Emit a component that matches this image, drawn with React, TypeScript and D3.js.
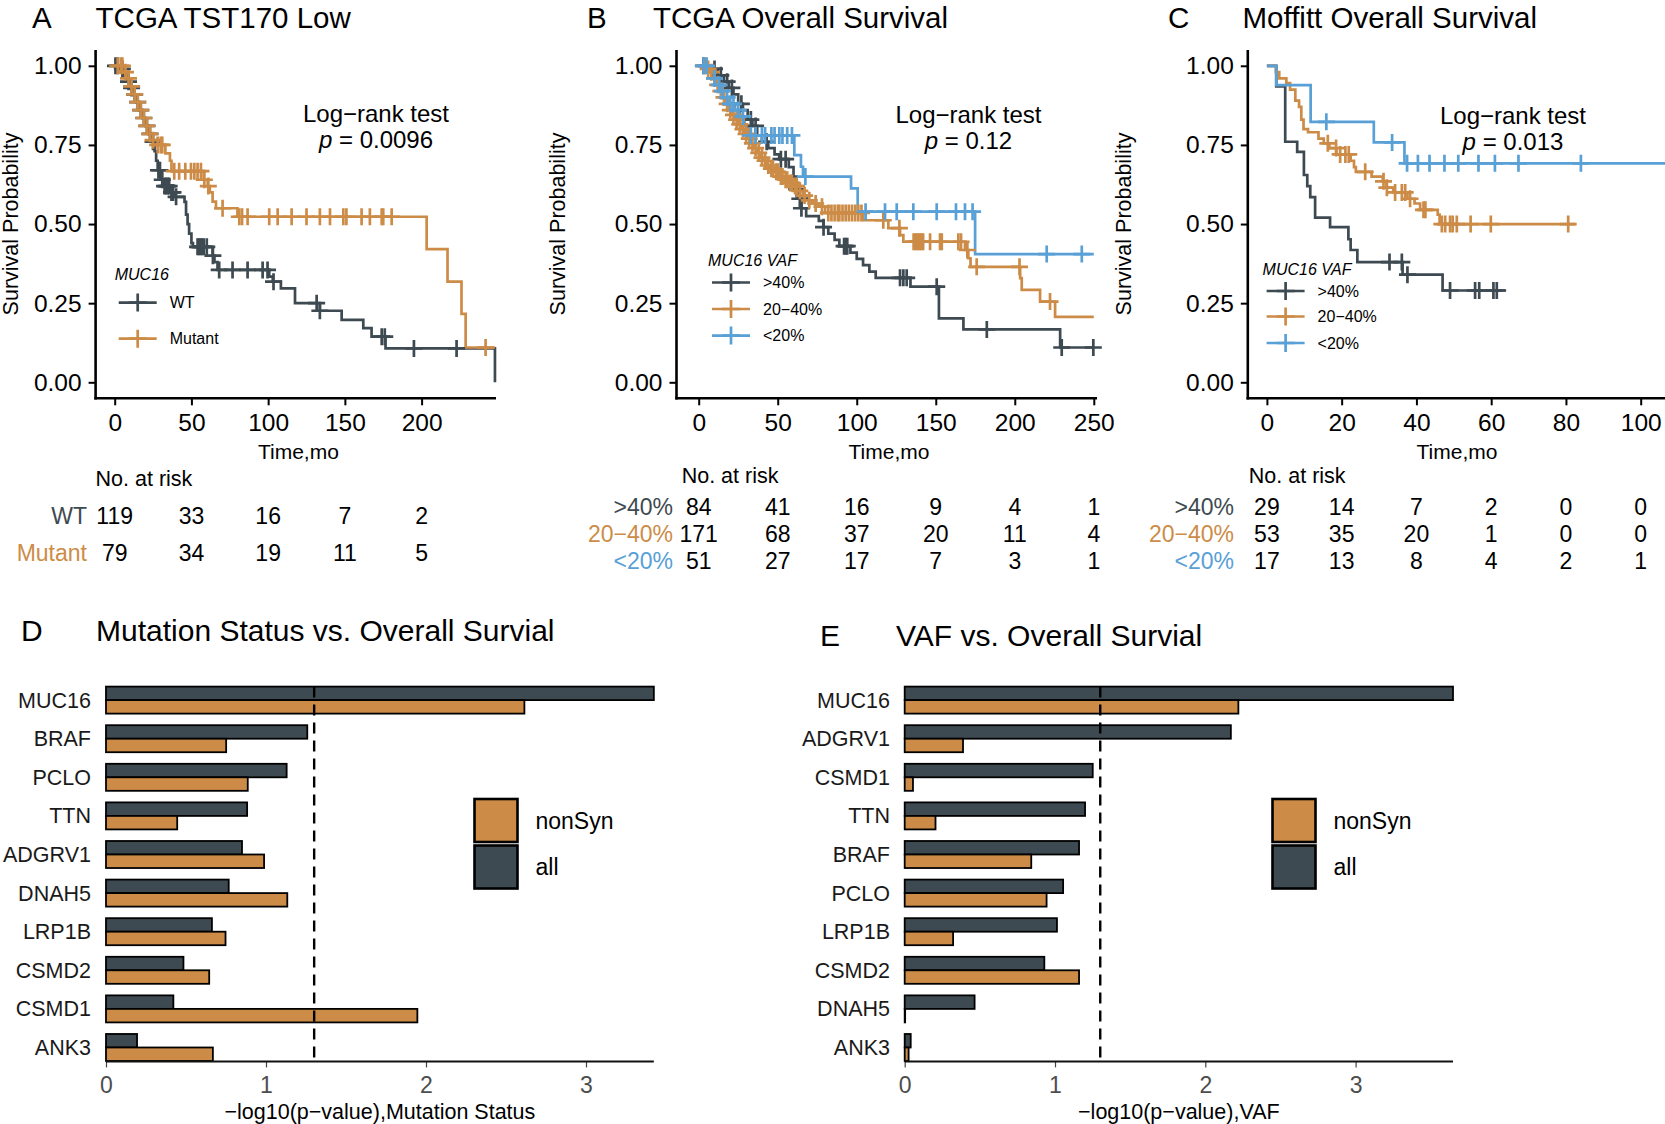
import React, { useEffect, useRef } from 'react';
import * as d3 from 'd3';

const DARK = '#3e4a51';
const ORANGE = '#cc8c47';
const BLUE = '#58a0d6';
const FONT = "'Liberation Sans', Arial, Helvetica, sans-serif";

// ---------- shared ----------
const yTicks = [0, 0.25, 0.5, 0.75, 1];
const vafGroups = ['>40%', '20\u221240%', '<20%'];

// ---------- A: TCGA TST170 Low ----------
const aTicks = [0, 50, 100, 150, 200];
const aGroups = ['WT', 'Mutant'];
const aWtSteps = [
  [0, 1], [3, 0.99], [6, 0.97], [8, 0.95], [10, 0.93], [12, 0.91], [14, 0.885], [16, 0.86], [18, 0.835],
  [20, 0.81], [22, 0.785], [24, 0.76], [26, 0.73], [27, 0.7], [28, 0.67], [30, 0.64], [32, 0.62], [36, 0.6],
  [39, 0.586], [45.5, 0.57], [46.5, 0.53], [47.5, 0.5], [48.5, 0.47], [50, 0.44], [51, 0.428], [63.8, 0.4],
  [65, 0.38], [67, 0.355], [100.7, 0.334], [103, 0.318], [108.3, 0.297], [117.5, 0.25], [133.7, 0.226],
  [147.9, 0.197], [162, 0.171], [167.4, 0.144], [176.5, 0.107], [247.8, 0],
];
const aWtCensor = [
  0.5, 2, 5, 9, 11, 13, 15, 17, 19, 21, 23, 25, 28.5, 29.5, 31, 32.5, 33.5, 34.5, 35.5, 37, 38, 40, 54, 55,
  56, 57, 58, 60, 64, 68.1, 76.8, 86.6, 96.4, 99.6, 103.5, 131.6, 133.7, 174, 176, 195, 222.8,
];
const aMutSteps = [
  [0, 1], [6, 0.98], [8, 0.96], [10, 0.935], [12, 0.91], [14, 0.885], [16, 0.86], [18, 0.835], [20, 0.81],
  [22, 0.785], [24, 0.765], [27, 0.75], [33, 0.723], [36, 0.7], [37, 0.667], [58, 0.64], [60.6, 0.62],
  [62, 0.6], [63.8, 0.571], [66, 0.55], [80, 0.523], [203.3, 0.421], [216.9, 0.318], [226, 0.216], [228.7, 0.11],
];
const aMutCensor = [
  2, 4, 5, 7, 9, 11, 13, 15, 17, 19, 21, 23, 25, 28, 30, 31, 38.8, 42, 46, 49.7, 51.9, 54, 56.2, 58.4, 61,
  70.3, 81.2, 83, 86.6, 100.7, 106.2, 115.3, 125, 133.7, 140.3, 149, 151, 160.9, 166.3, 174, 175, 180.5, 241.7,
];
const aRiskWt = [119, 33, 16, 7, 2];
const aRiskMut = [79, 34, 19, 11, 5];

// ---------- B: TCGA Overall Survival ----------
const bTicks = [0, 50, 100, 150, 200, 250];
const bHighSteps = [
  [0, 1], [8, 0.99], [12, 0.97], [16, 0.95], [19, 0.93], [22, 0.91], [25, 0.88], [28, 0.86], [31, 0.83],
  [34, 0.81], [37, 0.78], [40, 0.76], [44, 0.74], [48, 0.72], [51, 0.705], [57, 0.68], [60, 0.65], [62, 0.61],
  [63, 0.58], [65, 0.55], [68, 0.525], [76, 0.51], [79, 0.49], [82, 0.47], [86, 0.45], [89, 0.43], [96, 0.41],
  [100, 0.39], [104, 0.37], [108, 0.35], [112, 0.33], [134, 0.302], [152, 0.202], [167.5, 0.167], [228.7, 0.11],
];
const bHighCensor = [
  3, 10, 14, 18, 21, 27, 33, 36, 43, 52, 55, 62, 64, 65, 79, 92, 93, 94, 127.4, 129.5, 131.6, 150.6, 182.3,
  229.7, 249.7,
];
const bMidSteps = [
  [0, 1], [5, 0.99], [7, 0.98], [9, 0.96], [11, 0.94], [13, 0.92], [15, 0.9], [17, 0.88], [19, 0.86],
  [21, 0.845], [23, 0.83], [25, 0.815], [27, 0.8], [29, 0.785], [31, 0.77], [33, 0.755], [35, 0.74],
  [37, 0.725], [39, 0.71], [41, 0.7], [43, 0.685], [45, 0.675], [48, 0.665], [51, 0.65], [54, 0.64],
  [57, 0.63], [60, 0.62], [63, 0.605], [66, 0.59], [69, 0.575], [72, 0.565], [76, 0.555], [80, 0.535],
  [104, 0.512], [120, 0.487], [127.4, 0.465], [129.5, 0.444], [168.5, 0.418], [170.6, 0.392], [172, 0.365],
  [203.4, 0.329], [204.4, 0.292], [216, 0.255], [225.5, 0.207],
];
const bMidCensor = [
  4, 6, 8, 10, 12, 14, 16, 18, 20, 22, 24, 26, 28, 30, 32, 34, 36, 38, 40, 42, 44, 46, 47, 49, 50, 52, 53,
  55, 56, 58, 59, 61, 62, 64, 67, 70, 74, 78, 82, 84, 86, 88, 89, 91, 93, 95, 97, 99, 101, 103, 116.8, 127,
  136, 137, 138, 139, 140, 141, 142, 146.4, 152.7, 153.8, 164.3, 166, 170, 175.9, 203, 222.3,
];
const bLowSteps = [
  [0, 1], [7, 0.98], [9, 0.96], [11, 0.94], [14, 0.92], [16, 0.9], [19, 0.88], [23, 0.86], [26, 0.84],
  [29, 0.81], [31, 0.78], [60.5, 0.718], [64.7, 0.681], [66, 0.65], [96.4, 0.613], [100.6, 0.539], [174.9, 0.405],
];
const bLowCensor = [
  3, 5, 10, 13, 15, 18, 20, 22, 25, 28, 33, 36, 40, 42, 46, 48, 51, 53, 56, 59, 67.5, 105.6, 117.9, 125.3,
  135.8, 150.6, 162.8, 168.5, 173.3, 220.2, 242.4,
];
const bRiskHigh = [84, 41, 16, 9, 4, 1];
const bRiskMid = [171, 68, 37, 20, 11, 4];
const bRiskLow = [51, 27, 17, 7, 3, 1];

// ---------- C: Moffitt Overall Survival ----------
const cTicks = [0, 20, 40, 60, 80, 100];
const cHighSteps = [
  [0, 1], [2.5, 0.935], [4.9, 0.76], [8.1, 0.728], [9.9, 0.655], [10.8, 0.62], [11.6, 0.585], [12.9, 0.52],
  [16.9, 0.49], [21.8, 0.452], [22.4, 0.418], [24.2, 0.38], [36.3, 0.34], [47, 0.29],
];
const cHighCensor = [32.8, 36.1, 37.6, 49, 55.7, 56.8, 60.6, 61.5];
const cMidSteps = [
  [0, 1], [2.4, 0.98], [3.3, 0.96], [5.2, 0.945], [6.2, 0.925], [7.6, 0.89], [8.6, 0.87], [9.2, 0.83],
  [9.8, 0.8], [11, 0.79], [13.8, 0.77], [15.2, 0.755], [16.7, 0.74], [18.6, 0.72], [22.4, 0.7], [23.3, 0.68],
  [23.8, 0.665], [28, 0.65], [31, 0.635], [32, 0.615], [33.8, 0.6], [37.6, 0.58], [39.5, 0.565], [41, 0.545],
  [45.7, 0.53], [46.2, 0.5],
];
const cMidCensor = [
  16.3, 18.5, 19.6, 21, 21.9, 26.3, 31.2, 32.1, 34.3, 36.1, 37, 38.3, 41.9, 42.4, 46.8, 47.7, 49, 49.7, 50.8,
  54.5, 59.9, 80.6,
];
const cLowSteps = [[0, 1], [2.5, 0.939], [11.7, 0.823], [28.6, 0.758], [36.8, 0.692]];
const cLowCensor = [15.9, 33.5, 37.5, 40.4, 43.5, 47.5, 51.2, 56.6, 61, 67.3, 84];
const cRiskHigh = [29, 14, 7, 2, 0, 0];
const cRiskMid = [53, 35, 20, 1, 0, 0];
const cRiskLow = [17, 13, 8, 4, 2, 1];

// ---------- D / E: bar charts ----------
const dGenes = ['MUC16', 'BRAF', 'PCLO', 'TTN', 'ADGRV1', 'DNAH5', 'LRP1B', 'CSMD2', 'CSMD1', 'ANK3'];
const dAll = [3.424, 1.258, 1.129, 0.882, 0.85, 0.767, 0.662, 0.484, 0.421, 0.194];
const dNonSyn = [2.615, 0.751, 0.886, 0.445, 0.988, 1.133, 0.747, 0.645, 1.946, 0.668];
const eGenes = ['MUC16', 'ADGRV1', 'CSMD1', 'TTN', 'BRAF', 'PCLO', 'LRP1B', 'CSMD2', 'DNAH5', 'ANK3'];
const eAll = [3.648, 2.17, 1.251, 1.2, 1.16, 1.054, 1.013, 0.929, 0.465, 0.04];
const eNonSyn = [2.22, 0.388, 0.055, 0.205, 0.842, 0.944, 0.322, 1.16, 0.003, 0.026];
const barTicks = [0, 1, 2, 3];
const barKinds = ['all', 'nonSyn'];
const SIG = -Math.log10(0.05);

const AXIS_Y = 398.3;
const ys = d3.scaleLinear().domain([0, 1]).range([382.3, 65.8]);

const survAt = (steps: number[][], t: number) => {
  let s = 1;
  for (const [tt, v] of steps) {
    if (tt <= t) s = v;
    else break;
  }
  return s;
};

const cross = (g: any, cx: number, cy: number, color: string, r = 8.5) => {
  g.append('path')
    .attr('d', `M${cx - r},${cy}H${cx + r}M${cx},${cy - r}V${cy + r}`)
    .attr('stroke', color)
    .attr('stroke-width', 2.7)
    .attr('fill', 'none');
};

function drawKm(svg: any, p: any) {
  const x = d3.scaleLinear().domain([0, p.ticks[p.ticks.length - 1]]).range([p.x0, p.x1]);
  const g = svg.append('g').attr('font-family', FONT);

  g.append('text').attr('x', p.letterX).attr('y', 28).attr('font-size', 29.5).text(p.letter);
  g.append('text').attr('x', p.titleX).attr('y', 28).attr('font-size', 29.5).text(p.title);

  const yAxis = g.append('g').attr('transform', `translate(${p.axisX},0)`)
    .call(d3.axisLeft(ys).tickValues(yTicks).tickFormat(d3.format('.2f')).tickSize(7).tickPadding(7));
  yAxis.select('.domain').remove();
  yAxis.selectAll('line').attr('stroke', '#000').attr('stroke-width', 2);
  yAxis.selectAll('text').attr('font-size', 24.5).attr('font-family', FONT).attr('fill', '#000');

  const xAxis = g.append('g').attr('transform', `translate(0,${AXIS_Y})`)
    .call(d3.axisBottom(x).tickValues(p.ticks).tickSize(7).tickPadding(8));
  xAxis.select('.domain').remove();
  xAxis.selectAll('line').attr('stroke', '#000').attr('stroke-width', 2);
  xAxis.selectAll('text').attr('font-size', 24.5).attr('font-family', FONT).attr('fill', '#000');

  g.append('line').attr('x1', p.axisX).attr('x2', p.axisX).attr('y1', 50).attr('y2', AXIS_Y + 1.3)
    .attr('stroke', '#000').attr('stroke-width', 2.6);
  g.append('line').attr('x1', p.axisX - 1.3).attr('x2', p.axisEnd).attr('y1', AXIS_Y).attr('y2', AXIS_Y)
    .attr('stroke', '#000').attr('stroke-width', 2.6);

  g.append('text').attr('transform', `translate(${p.ylabX},224) rotate(-90)`)
    .attr('text-anchor', 'middle').attr('dy', '0.35em').attr('font-size', 21.5).text('Survival Probability');
  g.append('text').attr('x', p.timeX).attr('y', 458.5).attr('text-anchor', 'middle')
    .attr('font-size', 21).text('Time,mo');

  const line = d3.line<number[]>().x((d) => x(d[0])).y((d) => ys(d[1])).curve(d3.curveStepAfter);
  p.series.forEach((s: any) => {
    const pts = [...s.steps, [s.end, s.steps[s.steps.length - 1][1]]];
    g.append('path').attr('d', line(pts)).attr('fill', 'none').attr('stroke', s.color).attr('stroke-width', 2.7);
  });
  p.series.forEach((s: any) => {
    s.censor.forEach((t: number) => cross(g, x(t), ys(survAt(s.steps, t)), s.color));
  });

  // log-rank annotation
  g.append('text').attr('x', p.pX).attr('y', p.pY).attr('text-anchor', 'middle').attr('font-size', 24)
    .text('Log\u2212rank test');
  const pt = g.append('text').attr('x', p.pX).attr('y', p.pY + 26.5).attr('text-anchor', 'middle').attr('font-size', 24);
  pt.append('tspan').attr('font-style', 'italic').text('p');
  pt.append('tspan').text(` = ${p.pValue}`);

  // legend
  g.append('text').attr('x', p.legX).attr('y', p.legTitleY).attr('font-size', 16).attr('font-style', 'italic')
    .text(p.legendTitle);
  p.series.forEach((s: any, i: number) => {
    const ly = p.legY[i];
    g.append('line').attr('x1', p.legX + 4).attr('x2', p.legX + 42).attr('y1', ly).attr('y2', ly)
      .attr('stroke', s.color).attr('stroke-width', 2.7);
    cross(g, p.legX + 23, ly, s.color, 9);
    g.append('text').attr('x', p.legX + 55).attr('y', ly).attr('dy', '0.35em').attr('font-size', 16).text(s.label);
  });

  // risk table
  g.append('text').attr('x', p.riskTitleX).attr('y', p.riskTitleY).attr('font-size', 21.5).text('No. at risk');
  p.series.forEach((s: any, i: number) => {
    const ry = p.riskY[i];
    g.append('text').attr('x', p.riskLabelX).attr('y', ry).attr('text-anchor', 'end').attr('font-size', 23)
      .attr('fill', s.color).text(s.label);
    g.selectAll(null).data(s.risk).enter().append('text')
      .attr('x', (_: number, j: number) => x(p.ticks[j])).attr('y', ry)
      .attr('text-anchor', 'middle').attr('font-size', 23).text((d: number) => d);
  });
}

function drawBars(svg: any, p: any) {
  const g = svg.append('g').attr('font-family', FONT);
  const maxV = d3.max(p.all) as number;
  const x = d3.scaleLinear().domain([0, maxV]).range([p.x0, p.x0 + maxV * p.unit]);
  const y = d3.scaleBand().domain(p.genes).range([686.6, 1061]).paddingInner(0.3).paddingOuter(0);
  const sub = d3.scaleBand().domain(barKinds).range([0, y.bandwidth()]);

  g.append('text').attr('x', p.letterX).attr('y', p.titleY).attr('font-size', 30).text(p.letter);
  g.append('text').attr('x', p.titleX).attr('y', p.titleY).attr('font-size', 30).text(p.title);

  const rows = p.genes.map((gene: string, i: number) => ({ gene, all: p.all[i], nonSyn: p.nonSyn[i] }));
  barKinds.forEach((k) => {
    g.selectAll(null).data(rows).enter().append('rect')
      .attr('x', x(0))
      .attr('y', (d: any) => (y(d.gene) as number) + (sub(k) as number))
      .attr('width', (d: any) => x(d[k]) - x(0))
      .attr('height', sub.bandwidth())
      .attr('fill', k === 'all' ? DARK : ORANGE)
      .attr('stroke', '#000').attr('stroke-width', 1.8);
  });

  g.append('line').attr('x1', x(SIG)).attr('x2', x(SIG)).attr('y1', 686.6).attr('y2', 1061)
    .attr('stroke', '#000').attr('stroke-width', 2.4).attr('stroke-dasharray', '11,7');

  const xAxis = g.append('g').attr('transform', 'translate(0,1061.4)')
    .call(d3.axisBottom(x).tickValues(barTicks).tickFormat(d3.format('d')).tickSize(6).tickPadding(9.5));
  xAxis.select('.domain').remove();
  xAxis.selectAll('line').attr('stroke', '#444').attr('stroke-width', 1.2);
  xAxis.selectAll('text').attr('font-size', 23).attr('font-family', FONT).attr('fill', '#4d4d4d');
  g.append('line').attr('x1', x(0)).attr('x2', x(maxV)).attr('y1', 1061.4).attr('y2', 1061.4)
    .attr('stroke', '#111').attr('stroke-width', 2);

  g.selectAll(null).data(p.genes).enter().append('text')
    .attr('x', p.labelX).attr('y', (d: string) => (y(d) as number) + y.bandwidth() / 2)
    .attr('dy', '0.35em').attr('text-anchor', 'end').attr('font-size', 21.5).attr('fill', '#1a1a1a')
    .text((d: string) => d);

  g.append('text').attr('x', (x(0) + x(maxV)) / 2).attr('y', 1119).attr('text-anchor', 'middle')
    .attr('font-size', 21.5).text(p.xlabel);

  // legend
  const legItems = [{ k: 'nonSyn', c: ORANGE, y0: 799 }, { k: 'all', c: DARK, y0: 845.5 }];
  legItems.forEach((it) => {
    g.append('rect').attr('x', p.legX).attr('y', it.y0).attr('width', 43).attr('height', 43)
      .attr('fill', it.c).attr('stroke', '#000').attr('stroke-width', 2.6);
    g.append('text').attr('x', p.legX + 61).attr('y', it.y0 + 21.5).attr('dy', '0.35em')
      .attr('font-size', 23).text(it.k);
  });
}

const App = () => {
  const ref = useRef<SVGSVGElement>(null);

  useEffect(() => {
    document.body.style.margin = '0';
    const svg = d3.select(ref.current);
    svg.selectAll('*').remove();

    drawKm(svg, {
      letter: 'A', letterX: 32, title: 'TCGA TST170 Low', titleX: 95.6,
      axisX: 95.6, axisEnd: 496, x0: 114.7, x1: 421.6, ticks: aTicks,
      ylabX: 10.6, timeX: 298.4, pX: 376, pY: 121.5, pValue: '0.0096',
      legendTitle: 'MUC16', legX: 114.7, legTitleY: 280, legY: [302.6, 338.7],
      riskTitleX: 95.6, riskTitleY: 485.7, riskLabelX: 87, riskY: [524, 561],
      series: [
        { label: aGroups[0], color: DARK, steps: aWtSteps, censor: aWtCensor, end: 247.8, risk: aRiskWt },
        { label: aGroups[1], color: ORANGE, steps: aMutSteps, censor: aMutCensor, end: 247.8, risk: aRiskMut },
      ],
    });

    drawKm(svg, {
      letter: 'B', letterX: 587, title: 'TCGA Overall Survival', titleX: 653,
      axisX: 676.5, axisEnd: 1097, x0: 698.7, x1: 1093.8, ticks: bTicks,
      ylabX: 557.5, timeX: 889, pX: 968.5, pY: 122.5, pValue: '0.12',
      legendTitle: 'MUC16 VAF', legX: 708, legTitleY: 265.5, legY: [282.5, 309, 335.6],
      riskTitleX: 681.7, riskTitleY: 482.7, riskLabelX: 673, riskY: [514.7, 542, 569],
      series: [
        { label: vafGroups[0], color: DARK, steps: bHighSteps, censor: bHighCensor, end: 250, risk: bRiskHigh },
        { label: vafGroups[1], color: ORANGE, steps: bMidSteps, censor: bMidCensor, end: 250, risk: bRiskMid },
        { label: vafGroups[2], color: BLUE, steps: bLowSteps, censor: bLowCensor, end: 250, risk: bRiskLow },
      ],
    });

    drawKm(svg, {
      letter: 'C', letterX: 1168, title: 'Moffitt Overall Survival', titleX: 1242.5,
      axisX: 1247.8, axisEnd: 1665, x0: 1266.9, x1: 1640.7, ticks: cTicks,
      ylabX: 1123.5, timeX: 1457, pX: 1513, pY: 123.5, pValue: '0.013',
      legendTitle: 'MUC16 VAF', legX: 1262.6, legTitleY: 275, legY: [291, 316.5, 343],
      riskTitleX: 1248.8, riskTitleY: 482.7, riskLabelX: 1234, riskY: [514.7, 542, 569],
      series: [
        { label: vafGroups[0], color: DARK, steps: cHighSteps, censor: cHighCensor, end: 64, risk: cRiskHigh },
        { label: vafGroups[1], color: ORANGE, steps: cMidSteps, censor: cMidCensor, end: 82.5, risk: cRiskMid },
        { label: vafGroups[2], color: BLUE, steps: cLowSteps, censor: cLowCensor, end: 108, risk: cRiskLow },
      ],
    });

    drawBars(svg, {
      letter: 'D', letterX: 21, title: 'Mutation Status vs. Overall Survial', titleX: 96, titleY: 641,
      genes: dGenes, all: dAll, nonSyn: dNonSyn, x0: 106, unit: 160, labelX: 91,
      xlabel: '\u2212log10(p\u2212value),Mutation Status', legX: 474.5,
    });

    drawBars(svg, {
      letter: 'E', letterX: 820, title: 'VAF vs. Overall Survial', titleX: 896, titleY: 646,
      genes: eGenes, all: eAll, nonSyn: eNonSyn, x0: 904.7, unit: 150.3, labelX: 890,
      xlabel: '\u2212log10(p\u2212value),VAF', legX: 1272.5,
    });
  }, []);

  return <svg ref={ref} width={1665} height={1124} style={{ display: 'block', background: '#fff' }} />;
};

export default App;
